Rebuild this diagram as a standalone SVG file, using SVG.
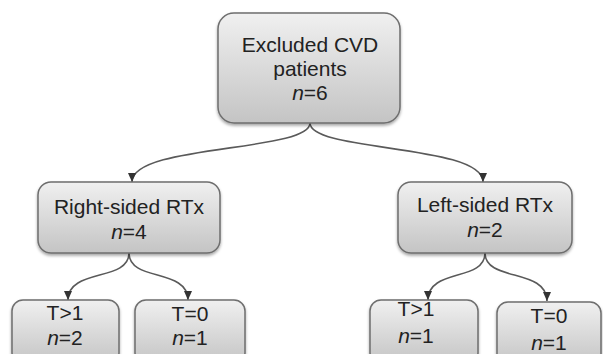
<svg xmlns="http://www.w3.org/2000/svg" width="603" height="354" viewBox="0 0 603 354">
<defs>
<linearGradient id="g" x1="0" y1="0" x2="0" y2="1">
<stop offset="0" stop-color="#f0f0f0"/>
<stop offset="1" stop-color="#c4c4c4"/>
</linearGradient>
<filter id="sh" x="-10%" y="-10%" width="120%" height="130%">
<feDropShadow dx="0" dy="2" stdDeviation="1.5" flood-color="#000" flood-opacity="0.35"/>
</filter>
<marker id="ah" markerUnits="userSpaceOnUse" markerWidth="10" markerHeight="10" viewBox="0 0 10 10" refX="9" refY="5" orient="auto">
<path d="M0,1 L9,5 L0,9 Z" fill="#333"/>
</marker>
<style>
.box{fill:url(#g);stroke:#6e6e6e;stroke-width:1.5;filter:url(#sh)}
.t{font-family:"Liberation Sans",Arial,sans-serif;font-size:21px;fill:#222;text-anchor:middle}
.i{font-style:italic}
.c{fill:none;stroke:#5a5a5a;stroke-width:1.6;marker-end:url(#ah)}
</style>
</defs>
<g id="connectors">
<path class="c" d="M310,123 C310,152 132,144 132,182"/>
<path class="c" d="M310,123 C310,152 483,144 483,182"/>
<path class="c" d="M129,253 C129,282 68,268 68,300"/>
<path class="c" d="M129,253 C129,282 188,268 188,300"/>
<path class="c" d="M485,253 C485,282 428,268 428,300"/>
<path class="c" d="M485,253 C485,282 547,268 547,301"/>
</g>
<g id="top">
<rect class="box" x="218" y="13" width="182" height="110" rx="16"/>
<text class="t" x="310" y="52">Excluded CVD</text>
<text class="t" x="310" y="76">patients</text>
<text class="t" x="310" y="100"><tspan class="i">n</tspan>=6</text>
</g>
<g id="right">
<rect class="box" x="38" y="182" width="182" height="71" rx="13"/>
<text class="t" x="129" y="214">Right-sided RTx</text>
<text class="t" x="129" y="239"><tspan class="i">n</tspan>=4</text>
</g>
<g id="left">
<rect class="box" x="398" y="182" width="174" height="71" rx="13"/>
<text class="t" x="485" y="212">Left-sided RTx</text>
<text class="t" x="485" y="237"><tspan class="i">n</tspan>=2</text>
</g>
<g id="r-t1">
<rect class="box" x="12" y="300" width="107" height="64" rx="11"/>
<text class="t" x="65" y="320">T&gt;1</text>
<text class="t" x="65" y="345"><tspan class="i">n</tspan>=2</text>
</g>
<g id="r-t0">
<rect class="box" x="135" y="300" width="110" height="64" rx="11"/>
<text class="t" x="190" y="321">T=0</text>
<text class="t" x="190" y="345"><tspan class="i">n</tspan>=1</text>
</g>
<g id="l-t1">
<rect class="box" x="370" y="300" width="108" height="64" rx="11"/>
<text class="t" x="416" y="316">T&gt;1</text>
<text class="t" x="416" y="343"><tspan class="i">n</tspan>=1</text>
</g>
<g id="l-t0">
<rect class="box" x="497" y="302" width="104" height="64" rx="11"/>
<text class="t" x="549" y="323">T=0</text>
<text class="t" x="549" y="350"><tspan class="i">n</tspan>=1</text>
</g>
</svg>
